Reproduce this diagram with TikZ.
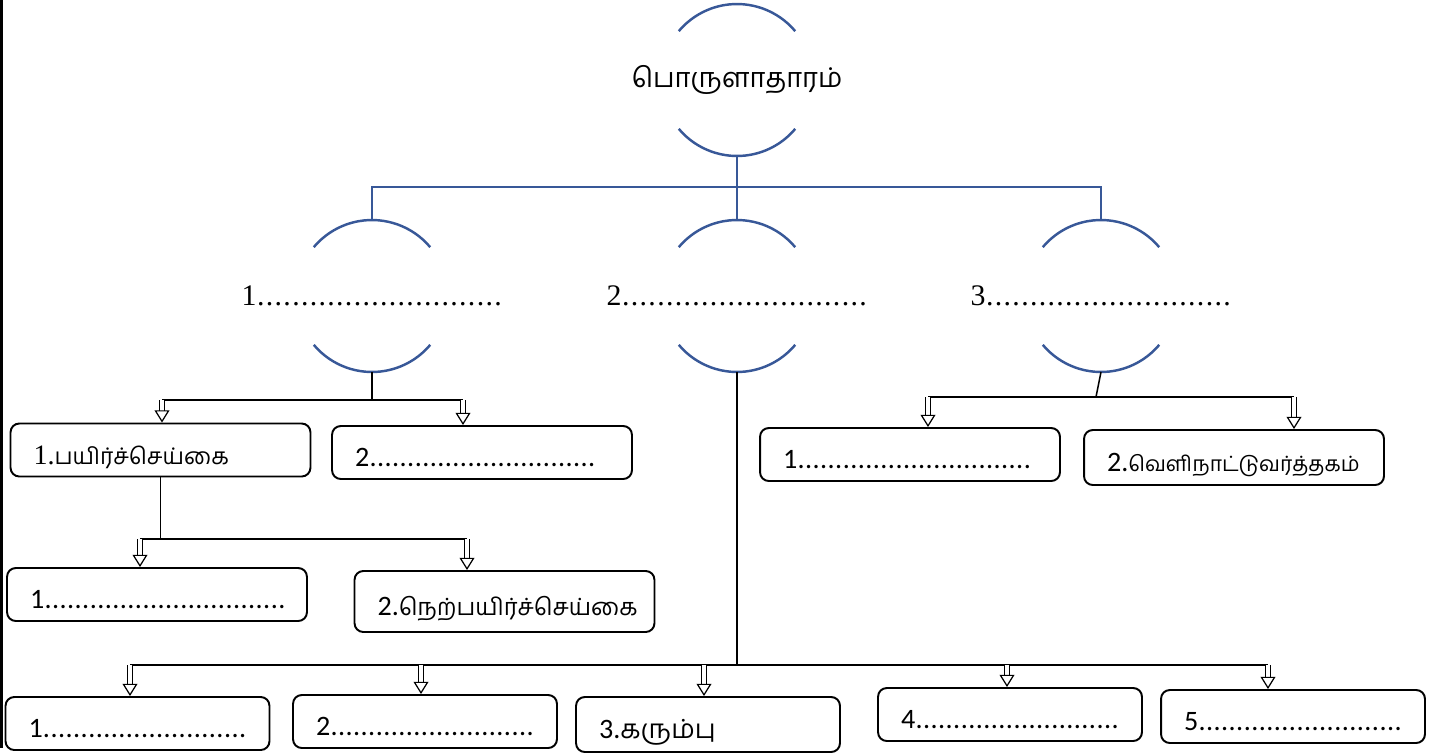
\documentclass[tikz,border=0pt]{standalone}
\usepackage{fontspec}
\setmainfont{Liberation Serif}
\newfontfamily\tamil[Script=Tamil]{Hind Madurai}
\newfontfamily\calib{Carlito}
\usetikzlibrary{arrows.meta}
\definecolor{ringblue}{RGB}{56,88,152}
\newcommand\dotrow[2]{\foreach \k in {1,...,#1}{\makebox[#2]{.}}}
\newcommand\tamsize[1]{\tamil\fontsize{#1}{#1}\selectfont}
\newcommand\ringarcs[1]{%
	\draw[ring] ([shift={(40:1.52cm)}]#1) arc[start angle=40, end angle=140, radius=1.52cm];
	\draw[ring] ([shift={(220:1.52cm)}]#1) arc[start angle=220, end angle=320, radius=1.52cm];
}
\begin{document}
\begin{tikzpicture}[x=0.02cm, y=-0.02cm,
	ring/.style={draw=ringblue, line width=1.4pt},
	link/.style={draw=black, line width=0.85pt},
	hollow/.style={double, line width=0.7pt, double distance=2.2pt, -{Triangle[open, length=7pt, width=8.5pt, line width=0.7pt]}},
	lvl/.style={font=\fontsize{17}{20}\selectfont, inner sep=0pt},
	wbox/.style={draw, line width=1.1pt, rounded corners=5pt, minimum height=1.06cm, inner xsep=0.46cm, text width=5.08cm, text height=16pt, text depth=0pt, align=left, font=\calib\fontsize{16}{19}\selectfont},
	nbox/.style={wbox, text width=4.36cm}]
	
	\useasboundingbox (0,0) rectangle (1448,755);
	\draw[line width=1.7pt] (1.5,0) -- (1.5,748);
	
	% rings
	\node[font=\tamsize{15.5}] (eco) at (737,80) {பொருளாதாரம்};
	\node[lvl] (br1) at (372,296) {1\dotrow{28}{5pt}};
	\node[lvl] (br2) at (737,296) {2\dotrow{28}{5pt}};
	\node[lvl] (br3) at (1101,296) {3\dotrow{28}{5pt}};
	\ringarcs{eco.center}
	\ringarcs{br1.center}
	\ringarcs{br2.center}
	\ringarcs{br3.center}
	\coordinate (eco-s) at ([yshift=-1.52cm]eco.center);
	\foreach \b in {br1,br2,br3}{
		\coordinate (\b-n) at ([yshift=1.52cm]\b.center);
		\coordinate (\b-s) at ([yshift=-1.52cm]\b.center);
	}
	
	% boxes
	\node[wbox] (crop) at (160.5,450) {{\rmfamily 1.}\tamsize{13}பயிர்ச்செய்கை};
	\node[wbox] (agri2) at (482,452.5) {2\dotrow{30}{4.3pt}};
	\node[wbox] (crop1) at (157,594.5) {1\dotrow{32}{4.3pt}};
	\node[wbox, minimum height=1.22cm] (paddy) at (504.5,601.5) {2.{\tamsize{13.5}நெற்பயிர்ச்செய்கை}};
	\node[wbox] (trade1) at (910,454.5) {1\dotrow{31}{4.3pt}};
	\node[wbox, minimum height=1.1cm] (export) at (1234,457.5) {2.{\tamsize{12}வெளிநாட்டுவர்த்தகம்}};
	\node[nbox] (cash1) at (137.5,723.5) {1\dotrow{27}{4.3pt}};
	\node[nbox] (cash2) at (425,721.5) {2\dotrow{27}{4.3pt}};
	\node[nbox, minimum height=1.1cm] (cane) at (708,724.5) {3.{\tamsize{15}கரும்பு}};
	\node[nbox] (cash4) at (1010,714.5) {4\dotrow{27}{4.3pt}};
	\node[nbox] (cash5) at (1293,716.5) {5\dotrow{27}{4.3pt}};
	
	% blue tree
	\coordinate (hub) at (737,187);
	\draw[ring] (eco-s) -- (hub);
	\draw[ring] (br1-n) |- (hub) -| (br3-n);
	\draw[ring] (hub) -- (br2-n);
	
	% branch 1
	\coordinate (j1) at (372,400);
	\coordinate (t11) at (162,400);
	\coordinate (t12) at (463,400);
	\draw[link] (br1-s) -- (j1);
	\draw[link] (t11) -- (t12);
	\draw[hollow] (t11) -- (t11 |- crop.north);
	\draw[hollow] (t12) -- (t12 |- agri2.north);
	
	\coordinate (t21) at (140,539);
	\coordinate (t22) at (467,539);
	\draw[link] (crop.south) -- (crop.south |- t21);
	\draw[link] (t21) -- (t22);
	\draw[hollow] (t21) -- (t21 |- crop1.north);
	\draw[hollow] (t22) -- (t22 |- paddy.north);
	
	% branch 3
	\coordinate (j3) at (1096,397);
	\coordinate (t31) at (928,397);
	\coordinate (t32) at (1294,397);
	\draw[link] (br3-s) -- (j3);
	\draw[link] (t31) -- (t32);
	\draw[hollow] (t31) -- (t31 |- trade1.north);
	\draw[hollow] (t32) -- (t32 |- export.north);
	
	% branch 2
	\coordinate (j4) at (737,665);
	\coordinate (t41) at (130,665);
	\coordinate (t42) at (421,665);
	\coordinate (t43) at (704,665);
	\coordinate (t44) at (1007,665);
	\coordinate (t45) at (1268,665);
	\draw[link] (br2-s) -- (j4);
	\draw[link] (t41) -- (t45);
	\foreach \t/\b in {t41/cash1, t42/cash2, t43/cane, t44/cash4, t45/cash5}
		\draw[hollow] (\t) -- (\t |- \b.north);
	
\end{tikzpicture}
\end{document}
